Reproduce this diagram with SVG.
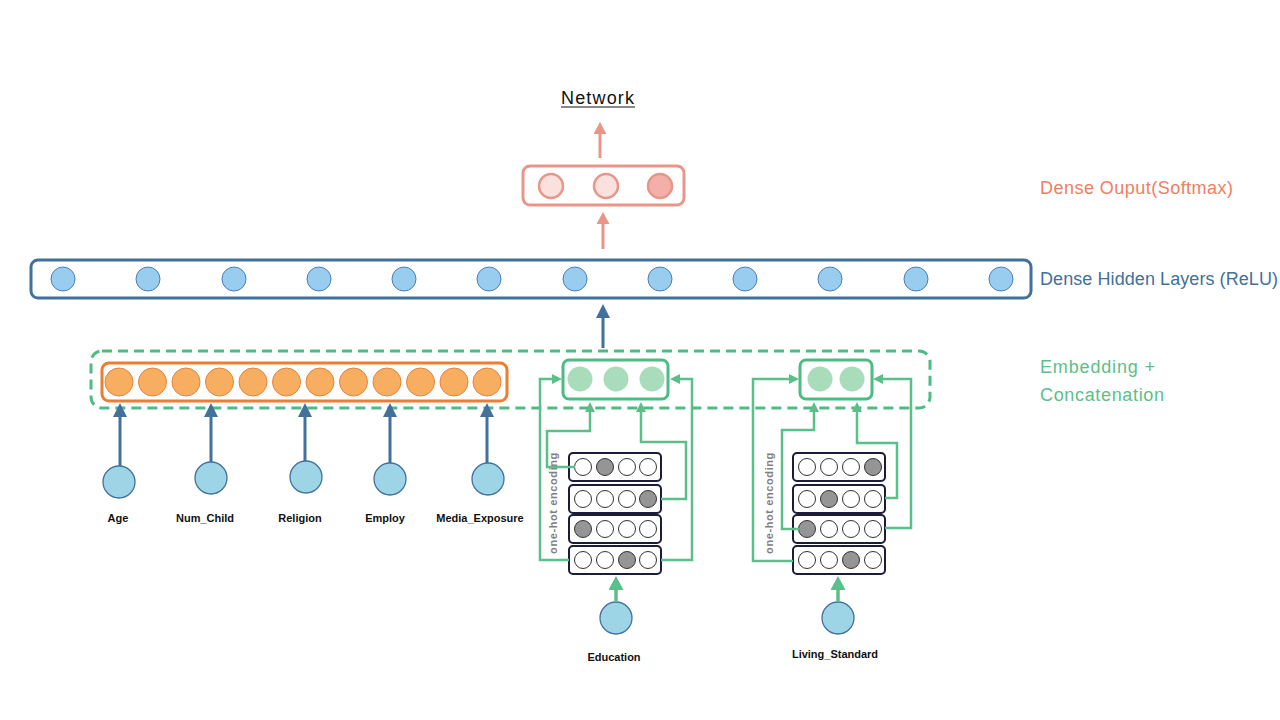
<svg xmlns="http://www.w3.org/2000/svg" width="1280" height="720" viewBox="0 0 1280 720">
  <defs>
    <style>
      .lbl { font-family: "Liberation Sans", Arial, sans-serif; font-weight: bold; font-size: 11px; fill: #111; text-anchor: middle; }
      .side { font-family: "Liberation Sans", Arial, sans-serif; font-size: 18px; }
      .onehot { font-family: "Liberation Sans", Arial, sans-serif; font-weight: bold; font-size: 11px; fill: #808080; text-anchor: middle; letter-spacing: 0.6px; }
      .hid { fill: #98CDF0; stroke: #4A7EBB; stroke-width: 1; }
      .emb { fill: #F7AE60; stroke: #E8833A; stroke-width: 1; }
      .embg { fill: #A8DCBB; stroke: none; }
      .inp { fill: #9DD4E6; stroke: #41719C; stroke-width: 1.3; }
      .row { fill: #fff; stroke: #1B1B3A; stroke-width: 2; }
      .cell { fill: #fff; stroke: #333; stroke-width: 1; }
      .on { fill: #959595; stroke: #333; stroke-width: 1; }
      .out { fill: #FBE1DE; stroke: #E8968A; stroke-width: 2.5; }
      .outOn { fill: #F2B0A8; stroke: #E8968A; stroke-width: 2.5; }
      .blue { stroke: #41719C; stroke-width: 3; fill: none; }
      .green { stroke: #5BBF8A; stroke-width: 2.5; fill: none; }
      .greenIn { stroke: #5BBF8A; stroke-width: 3.5; fill: none; }
      .salmon { stroke: #E8968A; stroke-width: 3; fill: none; }
    </style>
    <marker id="hBlue" markerUnits="userSpaceOnUse" viewBox="0 0 14 14" markerWidth="14" markerHeight="14" refX="2" refY="7" orient="auto">
      <path d="M0,0 L14,7 L0,14 z" fill="#41719C"/>
    </marker>
    <marker id="hGreen" markerUnits="userSpaceOnUse" viewBox="0 0 10 10" markerWidth="10" markerHeight="10" refX="1" refY="5" orient="auto">
      <path d="M0,0 L10,5 L0,10 z" fill="#5BBF8A"/>
    </marker>
    <marker id="hGreenBig" markerUnits="userSpaceOnUse" viewBox="0 0 14 15" markerWidth="14" markerHeight="15" refX="2" refY="7.5" orient="auto">
      <path d="M0,0 L14,7.5 L0,15 z" fill="#5BBF8A"/>
    </marker>
    <marker id="hSalmon" markerUnits="userSpaceOnUse" viewBox="0 0 12 13" markerWidth="12" markerHeight="13" refX="2" refY="6.5" orient="auto">
      <path d="M0,0 L12,6.5 L0,13 z" fill="#E8968A"/>
    </marker>
  </defs>

  <rect width="1280" height="720" fill="#fff"/>

  <!-- title -->
  <g id="title">
    <text x="561" y="104" textLength="73" lengthAdjust="spacing" font-family="Liberation Sans, Arial, sans-serif" font-size="18" fill="#111">Network</text>
    <line x1="561" y1="107" x2="635" y2="107" stroke="#111" stroke-width="1.2"/>
  </g>

  <!-- layer captions -->
  <g id="captions" class="side">
    <text x="1040" y="194" textLength="193" lengthAdjust="spacing" fill="#F07E62">Dense Ouput(Softmax)</text>
    <text x="1040" y="285" textLength="238" lengthAdjust="spacing" fill="#41719C">Dense Hidden Layers (ReLU)</text>
    <text x="1040" y="373" textLength="115" lengthAdjust="spacing" fill="#5CC08A">Embedding +</text>
    <text x="1040" y="401" textLength="124" lengthAdjust="spacing" fill="#5CC08A">Concatenation</text>
  </g>

  <!-- softmax output layer -->
  <g id="output-layer">
    <rect x="523" y="166" width="161" height="39" rx="7" fill="#fff" stroke="#E8968A" stroke-width="3"/>
    <circle class="out" cx="551" cy="186" r="12"/>
    <circle class="out" cx="606" cy="186" r="12"/>
    <circle class="outOn" cx="660" cy="186" r="12"/>
  </g>

  <!-- hidden dense layer -->
  <g id="hidden-layer">
    <rect x="31" y="260" width="1000" height="38" rx="7" fill="#fff" stroke="#41719C" stroke-width="3"/>
    <circle class="hid" cx="63" cy="279" r="12"/>
    <circle class="hid" cx="148" cy="279" r="12"/>
    <circle class="hid" cx="234" cy="279" r="12"/>
    <circle class="hid" cx="319" cy="279" r="12"/>
    <circle class="hid" cx="404" cy="279" r="12"/>
    <circle class="hid" cx="489" cy="279" r="12"/>
    <circle class="hid" cx="575" cy="279" r="12"/>
    <circle class="hid" cx="660" cy="279" r="12"/>
    <circle class="hid" cx="745" cy="279" r="12"/>
    <circle class="hid" cx="830" cy="279" r="12"/>
    <circle class="hid" cx="916" cy="279" r="12"/>
    <circle class="hid" cx="1001" cy="279" r="12"/>
  </g>

  <!-- concatenation frame -->
  <g id="concat-frame">
    <rect x="91" y="351" width="839" height="57" rx="11" fill="none" stroke="#4DBB83" stroke-width="3" stroke-dasharray="10 6"/>
  </g>

  <!-- numeric features -->
  <g id="numeric-embedding">
    <rect x="102" y="363" width="405" height="38" rx="7" fill="#fff" stroke="#ED7D31" stroke-width="3"/>
    <circle class="emb" cx="119" cy="382" r="14"/>
    <circle class="emb" cx="152.5" cy="382" r="14"/>
    <circle class="emb" cx="186" cy="382" r="14"/>
    <circle class="emb" cx="219.5" cy="382" r="14"/>
    <circle class="emb" cx="253" cy="382" r="14"/>
    <circle class="emb" cx="286.5" cy="382" r="14"/>
    <circle class="emb" cx="320" cy="382" r="14"/>
    <circle class="emb" cx="353.5" cy="382" r="14"/>
    <circle class="emb" cx="387" cy="382" r="14"/>
    <circle class="emb" cx="420.5" cy="382" r="14"/>
    <circle class="emb" cx="454" cy="382" r="14"/>
    <circle class="emb" cx="487" cy="382" r="14"/>
  </g>

  <!-- education embedding -->
  <g id="education-embedding">
    <rect x="563" y="360" width="105" height="39" rx="6" fill="#fff" stroke="#4DBB83" stroke-width="3"/>
    <circle class="embg" cx="580" cy="379" r="12.5"/>
    <circle class="embg" cx="616" cy="379" r="12.5"/>
    <circle class="embg" cx="652" cy="379" r="12.5"/>
  </g>

  <!-- living standard embedding -->
  <g id="living-embedding">
    <rect x="800" y="360" width="72" height="39" rx="6" fill="#fff" stroke="#4DBB83" stroke-width="3"/>
    <circle class="embg" cx="820" cy="379" r="12.5"/>
    <circle class="embg" cx="852" cy="379" r="12.5"/>
  </g>

  <!-- education one-hot rows -->
  <g id="education-onehot">
    <rect class="row" x="569" y="453" width="92" height="28" rx="4"/>
    <circle class="cell" cx="583" cy="467" r="8.5"/><circle class="on" cx="605" cy="467" r="8.5"/><circle class="cell" cx="627" cy="467" r="8.5"/><circle class="cell" cx="648" cy="467" r="8.5"/>
    <rect class="row" x="569" y="485" width="92" height="28" rx="4"/>
    <circle class="cell" cx="583" cy="499" r="8.5"/><circle class="cell" cx="605" cy="499" r="8.5"/><circle class="cell" cx="627" cy="499" r="8.5"/><circle class="on" cx="648" cy="499" r="8.5"/>
    <rect class="row" x="569" y="515" width="92" height="28" rx="4"/>
    <circle class="on" cx="583" cy="529" r="8.5"/><circle class="cell" cx="605" cy="529" r="8.5"/><circle class="cell" cx="627" cy="529" r="8.5"/><circle class="cell" cx="648" cy="529" r="8.5"/>
    <rect class="row" x="569" y="546" width="92" height="28" rx="4"/>
    <circle class="cell" cx="583" cy="560" r="8.5"/><circle class="cell" cx="605" cy="560" r="8.5"/><circle class="on" cx="627" cy="560" r="8.5"/><circle class="cell" cx="648" cy="560" r="8.5"/>
    <text class="onehot" transform="translate(557,503) rotate(-90)">one-hot encoding</text>
  </g>

  <!-- living standard one-hot rows -->
  <g id="living-onehot">
    <rect class="row" x="793" y="453" width="92" height="28" rx="4"/>
    <circle class="cell" cx="807" cy="467" r="8.5"/><circle class="cell" cx="829" cy="467" r="8.5"/><circle class="cell" cx="851" cy="467" r="8.5"/><circle class="on" cx="873" cy="467" r="8.5"/>
    <rect class="row" x="793" y="485" width="92" height="28" rx="4"/>
    <circle class="cell" cx="807" cy="499" r="8.5"/><circle class="on" cx="829" cy="499" r="8.5"/><circle class="cell" cx="851" cy="499" r="8.5"/><circle class="cell" cx="873" cy="499" r="8.5"/>
    <rect class="row" x="793" y="515" width="92" height="28" rx="4"/>
    <circle class="on" cx="807" cy="529" r="8.5"/><circle class="cell" cx="829" cy="529" r="8.5"/><circle class="cell" cx="851" cy="529" r="8.5"/><circle class="cell" cx="873" cy="529" r="8.5"/>
    <rect class="row" x="793" y="546" width="92" height="28" rx="4"/>
    <circle class="cell" cx="807" cy="560" r="8.5"/><circle class="cell" cx="829" cy="560" r="8.5"/><circle class="on" cx="851" cy="560" r="8.5"/><circle class="cell" cx="873" cy="560" r="8.5"/>
    <text class="onehot" transform="translate(773,503) rotate(-90)">one-hot encoding</text>
  </g>

  <!-- input features -->
  <g id="input-age"><circle class="inp" cx="119" cy="482" r="16"/><text class="lbl" x="118" y="522">Age</text></g>
  <g id="input-num-child"><circle class="inp" cx="211" cy="478" r="16"/><text class="lbl" x="205" y="522">Num_Child</text></g>
  <g id="input-religion"><circle class="inp" cx="306" cy="477" r="16"/><text class="lbl" x="300" y="522">Religion</text></g>
  <g id="input-employ"><circle class="inp" cx="390" cy="479" r="16"/><text class="lbl" x="385" y="522">Employ</text></g>
  <g id="input-media"><circle class="inp" cx="488" cy="479" r="16"/><text class="lbl" x="480" y="522">Media_Exposure</text></g>
  <g id="input-education"><circle class="inp" cx="616" cy="618" r="16"/><text class="lbl" x="614" y="661">Education</text></g>
  <g id="input-living"><circle class="inp" cx="838" cy="618" r="16"/><text class="lbl" x="835" y="658">Living_Standard</text></g>

  <!-- connectors -->
  <g id="connectors">
    <!-- network flow -->
    <line class="salmon" x1="600" y1="158" x2="600" y2="132" marker-end="url(#hSalmon)"/>
    <line class="salmon" x1="603" y1="249" x2="603" y2="222" marker-end="url(#hSalmon)"/>
    <line class="blue" x1="603" y1="348" x2="603" y2="316" marker-end="url(#hBlue)"/>

    <!-- numeric inputs into embedding -->
    <line class="blue" x1="120" y1="466" x2="120" y2="415" marker-end="url(#hBlue)"/>
    <line class="blue" x1="211" y1="462" x2="211" y2="415" marker-end="url(#hBlue)"/>
    <line class="blue" x1="305" y1="461" x2="305" y2="415" marker-end="url(#hBlue)"/>
    <line class="blue" x1="390" y1="463" x2="390" y2="415" marker-end="url(#hBlue)"/>
    <line class="blue" x1="487" y1="463" x2="487" y2="415" marker-end="url(#hBlue)"/>

    <!-- categorical inputs into one-hot rows -->
    <line class="greenIn" x1="616" y1="602" x2="616" y2="588" marker-end="url(#hGreenBig)"/>
    <line class="greenIn" x1="838" y1="602" x2="838" y2="588" marker-end="url(#hGreenBig)"/>

    <!-- education one-hot to embedding -->
    <polyline class="green" points="569,560 540,560 540,379 553,379" marker-end="url(#hGreen)"/>
    <polyline class="green" points="575,467 547,467 547,431 590,431 590,411" marker-end="url(#hGreen)"/>
    <polyline class="green" points="661,499 686,499 686,442 641,442 641,411" marker-end="url(#hGreen)"/>
    <polyline class="green" points="661,560 692,560 692,379 679,379" marker-end="url(#hGreen)"/>

    <!-- living standard one-hot to embedding -->
    <polyline class="green" points="793,561 753,561 753,379 790,379" marker-end="url(#hGreen)"/>
    <polyline class="green" points="799,529 782,529 782,430 814,430 814,411" marker-end="url(#hGreen)"/>
    <polyline class="green" points="885,498 897,498 897,443 857,443 857,411" marker-end="url(#hGreen)"/>
    <polyline class="green" points="885,528 911,528 911,379 882,379" marker-end="url(#hGreen)"/>
  </g>
</svg>
